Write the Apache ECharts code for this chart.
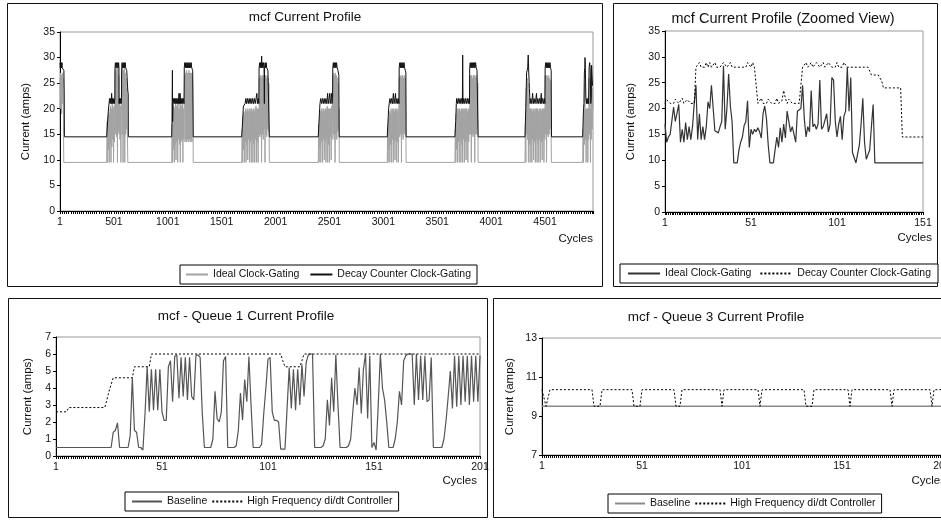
<!DOCTYPE html>
<html><head><meta charset="utf-8">
<script src="https://cdn.jsdelivr.net/npm/echarts@6.0.0/dist/echarts.min.js"></script>
<style>html,body{margin:0;padding:0;background:#fff}#main{width:941px;height:521px}</style>
</head><body><div id="main"></div>
<script>
// ---------- Panel 1: mcf Current Profile (cycle, amps) ----------
const p1XTickLabels = ['1','501','1001','1501','2001','2501','3001','3501','4001','4501'];
const p1MaxCycle = 4946;
const p1Ideal = [
 [1,26],[4,20],[7,27],[10,22],[13,26.5],[16,19],[19,26],[22,21],[25,27],[28,24],[31,26],[34,15],[36,9.5],
 [434,9.5],[438,17.5],[442,9.5],[446,18.5],[450,12],[454,20],[458,9.5],[462,19],[466,13],[470,20.5],[474,9.5],[478,20],[482,12.5],[486,21],[490,14],[494,20],[498,9.5],[502,20.5],[506,13.5],[510,21],[514,27.5],[518,15],[522,28],[526,14.5],[530,27],[534,9.5],[538,28],[542,15.5],[546,26.5],[550,15],[554,21],[558,14],[562,20.5],[566,9.5],[570,21],[574,27],[578,15],[582,28],[586,9.5],[590,27.5],[594,14.5],[598,28],[602,9.5],[606,27],[610,15],[614,26],[618,16],[622,24],[626,15],[630,9.5],
 [1037,9.5],[1041,17],[1045,9.5],[1049,19.5],[1053,12],[1057,20.5],[1061,9.5],[1065,20],[1069,13],[1073,21],[1077,10],[1081,20.5],[1085,13.5],[1089,21],[1093,9.5],[1097,20],[1101,14],[1105,21],[1109,13],[1113,20],[1117,9.5],[1121,21],[1125,14],[1129,20.5],[1133,13.5],[1137,21],[1141,9.5],[1145,20],[1149,14],[1153,21],[1157,26.5],[1161,13.5],[1165,27],[1169,14],[1173,27.5],[1177,13.5],[1181,27],[1185,14],[1189,27],[1193,13.5],[1197,27.5],[1201,14],[1205,27],[1209,13.5],[1213,27],[1217,14],[1221,27],[1225,13.5],[1229,26.5],[1233,25],[1237,9.5],
 [1687,9.5],[1691,16],[1695,9.5],[1699,18.5],[1703,12],[1707,19.5],[1711,9.5],[1715,19],[1719,13.5],[1723,20],[1727,9.5],[1731,19.5],[1735,13],[1739,20],[1743,10],[1747,19.5],[1751,14],[1755,20],[1759,9.5],[1763,19.5],[1767,13.5],[1771,20],[1775,9.5],[1779,20],[1783,14],[1787,19.5],[1791,9.5],[1795,20],[1799,13],[1803,19.5],[1807,9.5],[1811,20],[1815,14],[1819,20.5],[1823,9.5],[1827,20],[1831,13.5],[1835,20],[1839,9.5],[1843,20],[1847,15],[1851,26],[1855,14.5],[1859,26.5],[1863,15],[1867,26],[1871,9.5],[1875,26.5],[1879,15],[1883,26.5],[1887,14],[1891,26],[1895,16],[1899,26.5],[1903,9.5],[1907,26.5],[1911,15],[1915,26],[1919,14.5],[1923,26.5],[1927,16],[1931,26],[1935,15.5],[1939,25],[1943,9.5],
 [2397,9.5],[2401,17],[2405,9.5],[2409,18.5],[2413,12.5],[2417,19.5],[2421,9.5],[2425,20],[2429,13.5],[2433,19.5],[2437,9.5],[2441,20],[2445,14],[2449,20],[2453,10],[2457,19.5],[2461,13.5],[2465,20],[2469,9.5],[2473,20],[2477,14],[2481,20.5],[2485,9.5],[2489,20],[2493,13],[2497,20],[2501,9.5],[2505,20],[2509,14.5],[2513,20],[2517,10],[2521,20.5],[2525,14],[2529,20],[2533,26.5],[2537,15],[2541,27],[2545,14],[2549,26.5],[2553,9.5],[2557,27],[2561,15],[2565,26.5],[2569,14],[2573,26],[2577,15.5],[2581,25],[2585,16],[2589,20],[2592,9.5],
 [3037,9.5],[3041,16.5],[3045,9.5],[3049,18],[3053,12],[3057,19.5],[3061,9.5],[3065,19],[3069,13],[3073,20],[3077,9.5],[3081,19.5],[3085,14],[3089,20],[3093,9.5],[3097,20],[3101,13.5],[3105,19.5],[3109,10],[3113,20],[3117,14],[3121,20],[3125,9.5],[3129,19.5],[3133,13.5],[3137,20],[3141,9.5],[3145,20],[3149,26],[3153,14.5],[3157,26.5],[3161,15],[3165,26],[3169,9.5],[3173,26.5],[3177,15],[3181,26.5],[3185,14],[3189,26],[3193,15.5],[3197,26.5],[3201,15],[3205,26],[3209,20],[3212,9.5],
 [3665,9.5],[3669,16],[3673,9.5],[3677,19],[3681,12],[3685,20],[3689,9.5],[3693,19.5],[3697,13.5],[3701,20],[3705,9.5],[3709,20],[3713,14],[3717,19.5],[3721,9.5],[3725,20],[3729,13],[3733,20],[3737,9.5],[3741,20],[3745,14],[3749,19.5],[3753,9.5],[3757,20],[3761,13.5],[3765,20],[3769,10],[3773,20],[3777,14],[3781,19.5],[3785,9.5],[3789,20],[3793,13.5],[3797,20],[3801,15],[3805,26.5],[3809,15],[3813,26.5],[3817,9.5],[3821,26.5],[3825,15],[3829,26],[3833,14.5],[3837,26.5],[3841,15],[3845,26.5],[3849,9.5],[3853,26],[3857,15],[3861,26.5],[3865,15],[3869,26],[3873,16],[3877,25],[3880,9.5],
 [4315,9.5],[4319,17],[4323,9.5],[4327,24],[4331,15],[4335,26],[4339,14],[4343,25],[4347,9.5],[4351,22],[4355,13],[4359,20],[4363,9.5],[4367,20],[4371,13.5],[4375,20],[4379,9.5],[4383,19.5],[4387,14],[4391,20],[4395,10],[4399,20],[4403,13.5],[4407,19.5],[4411,9.5],[4415,20],[4419,14],[4423,20],[4427,9.5],[4431,20],[4435,13],[4439,19.5],[4443,9.5],[4447,20],[4451,14],[4455,20],[4459,9.5],[4463,20],[4467,13.5],[4471,19.5],[4475,10],[4479,20],[4483,14],[4487,20],[4491,9.5],[4495,20],[4499,14],[4503,26.5],[4507,15],[4511,26.5],[4515,9.5],[4519,26.5],[4523,15],[4527,26],[4531,14.5],[4535,26.5],[4539,15],[4543,26],[4547,16],[4551,25.5],[4555,20],[4560,9.5],
 [4850,9.5],[4854,16],[4858,9.5],[4862,19],[4866,13],[4870,25],[4874,14],[4878,20],[4882,9.5],[4886,20],[4890,13.5],[4894,20],[4898,9.5],[4902,20],[4906,14],[4910,26],[4914,15],[4918,25.5],[4922,9.5],[4926,20],[4930,14],[4934,26],[4938,16],[4942,24],[4946,20]
];
const p1Decay = [
 [1,29],[4,28],[7,29],[10,28],[13,29],[16,28],[19,29],[22,28],[30,28],[37,27.5],[40,23.5],[42,14.5],
 [434,14.5],[449,19.5],[456,21],[461,22],[466,21],[471,22],[476,21],[480,23],[485,21],[490,22],[495,21],[500,22],[505,21],[510,22],[511,28],[515,29],[520,28],[525,29],[530,28],[535,29],[540,28],[545,29],[548,28],[549,21],[553,22],[558,21],[563,22],[568,21],[572,22],[573,28],[577,29],[582,28],[587,29],[592,28],[597,29],[602,28],[607,29],[610,28],[620,27.5],[630,23.5],[634,23],[635,14.5],
 [1037,14.5],[1040,17],[1044,27.5],[1046,17.5],[1050,21],[1055,22],[1060,21],[1065,22],[1070,21],[1075,22],[1080,21],[1085,22],[1090,21],[1095,22],[1100,21],[1105,23],[1110,21],[1115,23],[1120,21],[1125,22],[1130,21],[1135,22],[1140,21],[1145,22],[1152,21],[1154,28],[1158,29],[1163,28],[1168,29],[1173,28],[1178,29],[1183,28],[1188,29],[1193,28],[1198,29],[1203,28],[1208,29],[1213,28],[1218,29],[1223,28],[1232,27.5],[1236,27.5],[1237,14.5],
 [1687,14.5],[1700,19.5],[1703,20.5],[1715,20.5],[1718,21],[1725,22],[1732,21],[1740,22],[1748,21],[1756,22],[1764,21],[1772,22],[1780,21],[1788,22],[1796,21],[1804,22],[1812,21],[1820,22],[1828,23],[1832,21],[1840,22],[1846,21],[1848,28],[1853,29],[1858,28],[1863,29],[1868,28],[1872,30.3],[1874,28],[1879,29],[1884,28],[1889,29],[1894,28],[1897,21],[1899,28],[1904,29],[1909,28],[1914,29],[1918,28],[1930,27.5],[1940,27.5],[1943,14.5],
 [2397,14.5],[2410,20],[2413,21],[2420,22],[2428,21],[2436,22],[2444,21],[2452,22],[2460,21],[2468,22],[2476,21],[2484,23],[2490,21],[2498,22],[2504,23],[2508,21],[2516,22],[2520,23],[2524,21],[2530,22],[2532,28],[2537,29],[2542,28],[2547,29],[2552,28],[2557,29],[2562,28],[2567,29],[2572,28],[2580,27.5],[2588,26.5],[2591,14.5],
 [3037,14.5],[3050,20],[3055,21],[3062,22],[3070,21],[3078,22],[3086,21],[3094,23],[3100,21],[3108,22],[3114,23],[3118,21],[3126,22],[3134,21],[3140,22],[3146,21],[3148,28],[3153,29],[3158,28],[3163,29],[3168,28],[3173,29],[3178,28],[3183,29],[3188,28],[3193,29],[3198,28],[3205,27.5],[3210,27],[3212,14.5],
 [3665,14.5],[3672,17.5],[3678,21],[3681,22],[3688,21],[3696,22],[3704,21],[3712,22],[3720,21],[3728,22],[3734,21],[3737,30.5],[3740,21],[3748,22],[3756,21],[3764,22],[3772,21],[3780,22],[3788,21],[3796,22],[3800,21],[3802,28],[3807,29],[3812,28],[3817,29],[3822,28],[3827,29],[3832,28],[3837,29],[3842,28],[3847,29],[3852,28],[3857,29],[3862,28],[3870,27.5],[3877,27.5],[3880,14.5],
 [4315,14.5],[4322,20],[4330,27],[4340,28],[4345,30.5],[4350,27],[4356,24],[4362,21],[4370,22],[4378,21],[4386,23],[4392,21],[4400,22],[4408,21],[4416,22],[4422,23],[4426,21],[4434,22],[4442,21],[4450,22],[4458,21],[4466,23],[4470,21],[4478,22],[4486,21],[4494,22],[4500,21],[4502,28],[4507,29],[4512,28],[4517,29],[4522,28],[4527,29],[4532,28],[4537,29],[4542,28],[4547,29],[4552,28],[4558,27.5],[4561,14.5],
 [4850,14.5],[4858,20],[4862,21],[4866,27],[4870,28],[4872,30],[4875,28],[4880,22],[4885,21],[4890,22],[4895,21],[4900,22],[4905,21],[4910,28],[4915,29],[4920,28],[4925,21],[4930,22],[4933,28.5],[4938,26],[4942,24.5],[4946,24.5]
];

// ---------- Panel 2: zoomed view, cycles 1..151 ----------
const p2Count = 151;
const p2Ideal = [
 17,13.5,14.5,15,15,20.3,17.5,17.3,20.8,13.5,
 16,13.5,17.3,14,16.5,14,16.5,21,24.5,14,
 19,14,16.5,14,16.5,21.3,20,24.5,24.8,15.7,
 15.5,15.3,16.5,17.5,28.3,16,20,26.7,20.5,17.5,
 9.5,9.5,9.5,12,13.5,14.5,16.7,17.5,21.5,12.5,
 16,15,16,15.5,16.3,15.5,14.3,19,20.5,18,
 13,9.5,9.5,9.5,12,14.5,12.5,16.3,13.5,17,
 14.3,19.5,19.5,15.5,16.5,15,13.5,19.5,19.5,20,
 24.5,18,14.5,16.5,15.5,23.5,16.5,17,16,17,
 25.5,16,16.5,16.5,19,15.5,17,26,25.5,17.5,
 14.5,17,18.5,14,18.5,19.5,28,19.5,26,11.5,
 10.5,9.5,9.7,13,17,22,13.5,10.2,10.2,12,
 16.5,20.8,9.5,9.5,9.5,9.5,9.5,9.5,9.5,9.5,
 9.5,9.5,9.5,9.5,9.5,9.5,9.5,9.5,9.5,9.5,
 9.5,9.5,9.5,9.5,9.5,9.5,9.5,9.5,9.5,9.5,
 9.5
];
const p2Decay = [
 21,21.7,21.7,21,21,21,21.8,21.8,21,21,
 22,21,21,21.7,21.7,21,21,21,
 28,28,28.9,28,28,28,28.9,28,28.9,28,
 28,28.9,28,28,28,28,28.9,28.9,28,28,
 28.9,28,28,28,28,28,28,28,28,28,
 28.9,28.9,28,28.9,28,28,
 21,21,22,21,21,21,21.8,21.8,21,21,
 21,22,21,21,21.5,23.5,22,21,21.8,21.8,
 21,21,21,21,21,21,
 28,28,28.9,28,28,28.9,28,28,28.9,28.9,
 28,28,28.9,28,28,28.9,28.9,28,28,28,
 28.9,28,28,28,28.9,28.9,28,28,28,28,
 28,28,28,28,28,28,28,28,28,28,
 26.5,26.5,26.5,26.5,26.5,26.5,
 25.3,24,24,24,24,24,24,24,24,24,24,24,
 14.5,14.5,14.5,14.5,14.5,14.5,14.5,14.5,14.5,14.5,14.5,14.5,14.5
];

// ---------- Panel 3: Queue 1, cycles 1..201 ----------
const q1Count = 201;
const q1Baseline = [
 0.5,0.5,0.5,0.5,0.5,0.5,0.5,0.5,0.5,0.5,
 0.5,0.5,0.5,0.5,0.5,0.5,0.5,0.5,0.5,0.5,
 0.5,0.5,0.5,0.5,0.5,0.5,0.5,
 1.4,1.5,1.95,0.5,0.5,0.5,0.5,0.5,1.2,4.6,1.5,1.4,0.5,
 0.5,0.35,2.5,5.25,2.6,5.1,2.7,5.1,2.7,5.1,
 2.6,2.1,2.1,5.25,5.6,3.2,5.85,5.95,3.4,5.8,
 3.5,5.8,3.3,5.8,3.5,3.3,5.9,5.95,5.8,2.5,
 0.5,0.5,0.5,0.5,1.0,3.8,2.2,2.0,2.6,5.6,
 5.85,0.5,0.5,0.5,0.5,0.6,1.5,3.7,2.1,4.5,
 3.2,5.85,3.0,0.5,0.5,0.5,0.5,0.7,2.5,4.0,
 5.7,5.8,2.6,2.1,2.1,2.0,0.4,0.4,0.4,2.8,
 5.2,2.8,5.1,2.7,5.1,3.0,5.4,3.5,5.5,5.95,
 6.0,6.0,0.5,0.5,0.5,0.5,0.6,1.0,3.3,1.8,
 4.6,2.6,5.95,3.0,0.5,0.5,0.5,0.5,0.6,1.0,
 2.6,4.0,3.0,5.2,2.5,5.1,6.0,2.2,5.9,0.5,
 0.8,0.35,3.0,6.0,4.0,3.3,2.0,0.5,0.5,0.5,
 1.0,2.0,3.8,3.0,5.6,5.9,6.0,6.0,6.0,3.0,
 6.0,3.3,5.9,3.3,5.9,3.2,3.3,5.8,0.5,0.5,
 0.5,0.5,0.5,1.0,2.1,3.5,5.0,2.8,5.9,2.9,
 5.9,3.0,5.9,3.2,5.9,3.0,5.9,3.2,5.9,3.2,
 5.9
];
// [cycle, amps] at the corners of the stepped controller line
const q1HighFreq = [
 [1,2.6],[6,2.6],[7,2.85],[24,2.85],[25,3.3],[26,3.8],[27,4.2],[28,4.6],[37,4.6],[38,5.25],[45,5.25],[46,6],
 [107,6],[108,5.6],[109,5.25],[116,5.25],[117,5.6],[118,6],[201,6]
];

// ---------- Panel 4: Queue 3, cycles 1..201 ----------
const q3Count = 201;
const q3YTicks = [7, 9, 11, 13];
const q3Baseline = [[1,9.5],[201,9.5]];
const q3HighFreq = [
 [1,10.35],[2,10.35],[3,9.5],[4,9.5],[5,10.35],[26,10.35],[27,9.5],[30,9.5],[31,10.35],
 [46,10.35],[47,9.5],[50,9.5],[51,10.35],[67,10.35],[68,9.5],[70,9.5],[71,10.35],
 [90,10.35],[91,9.5],[92,10.35],[109,10.35],[110,9.5],[111,10.35],
 [132,10.35],[133,9.5],[136,9.5],[137,10.35],[154,10.35],[155,9.5],[156,10.35],
 [175,10.35],[176,9.5],[177,10.35],[195,10.35],[196,9.5],[197,10.35],[201,10.35]
];

// ---------- build ----------
const FONT = "'Liberation Sans', Arial, sans-serif";
const cats = n => { const a = []; for (let i = 1; i <= n; i++) a.push(String(i)); return a; };
const catPairs = arr => arr.map(([c, v]) => [String(c), v]);
const DOT = [2, 2];

function yAx(gi, min, max, interval, gap, extra) {
  return Object.assign({
    type: 'value', gridIndex: gi, min, max, interval,
    name: 'Current (amps)', nameLocation: 'middle', nameGap: gap,
    nameTextStyle: { fontSize: 11.5, color: '#111', fontFamily: FONT },
    axisLine: { show: true, lineStyle: { color: '#000', width: 1 } },
    axisTick: { show: true, length: 3, lineStyle: { color: '#000' } },
    axisLabel: { fontSize: 10.5, color: '#111', margin: 5, fontFamily: FONT },
    splitLine: { show: false }
  }, extra || {});
}
function xCat(gi, n, nameGap, namePad) {
  return {
    type: 'category', gridIndex: gi, data: cats(n), boundaryGap: false,
    name: 'Cycles', nameLocation: 'end', nameGap: nameGap,
    nameTextStyle: { fontSize: 11.5, color: '#111', align: 'right', verticalAlign: 'top', padding: [namePad, 0, 0, 0], fontFamily: FONT },
    axisLine: { show: true, onZero: false, lineStyle: { color: '#000', width: 1 } },
    axisTick: { show: true, interval: 0, length: 3, lineStyle: { color: '#000' } },
    axisLabel: { interval: 49, fontSize: 10.5, color: '#111', margin: 6, fontFamily: FONT },
    splitLine: { show: false }
  };
}
function legend(names, left, top, iconW, gap, pad) {
  return {
    data: names, left, top, orient: 'horizontal', selectedMode: false,
    itemWidth: iconW, itemHeight: 8, itemGap: gap,
    padding: pad, borderColor: '#000', borderWidth: 1, backgroundColor: '#fff',
    itemStyle: { opacity: 0 },
    formatter: n => n.split('|')[0],
    textStyle: { fontSize: 10.5, color: '#111', fontFamily: FONT }
  };
}
function line(name, xi, data, color, width, type) {
  return {
    name, type: 'line', xAxisIndex: xi, yAxisIndex: xi, data,
    symbol: 'none', showSymbol: false, animation: false, silent: true,
    lineStyle: { color, width, type: type || 'solid' }, itemStyle: { color }
  };
}
const titleStyle = { fontSize: 13.5, fontWeight: 'normal', color: '#111', fontFamily: FONT };
const gridBase = { show: true, borderColor: '#999', borderWidth: 1, containLabel: false, outerBoundsMode: 'none' };

const option = {
  backgroundColor: '#fff',
  animation: false,
  textStyle: { fontFamily: FONT },
  title: [
    { text: 'mcf Current Profile', left: 305, top: 10, textAlign: 'center', padding: 0, textStyle: titleStyle },
    { text: 'mcf Current Profile (Zoomed View)', left: 783, top: 11, textAlign: 'center', padding: 0, textStyle: Object.assign({}, titleStyle, { fontSize: 14.5 }) },
    { text: 'mcf - Queue 1 Current Profile', left: 246, top: 309, textAlign: 'center', padding: 0, textStyle: titleStyle },
    { text: 'mcf - Queue 3 Current Profile', left: 716, top: 310, textAlign: 'center', padding: 0, textStyle: titleStyle }
  ],
  grid: [
    Object.assign({ left: 60, top: 32, width: 533, height: 179 }, gridBase),
    Object.assign({ left: 665, top: 31, width: 258, height: 181 }, gridBase),
    Object.assign({ left: 56, top: 337, width: 424, height: 119 }, gridBase),
    Object.assign({ left: 542, top: 338, width: 400, height: 117 }, gridBase)
  ],
  xAxis: [
    {
      type: 'value', gridIndex: 0, min: 0, max: p1MaxCycle - 1, interval: 500,
      name: 'Cycles', nameLocation: 'end', nameGap: 0,
      nameTextStyle: { fontSize: 11.5, color: '#111', align: 'right', verticalAlign: 'top', padding: [22, 0, 0, 0], fontFamily: FONT },
      axisLine: { show: true, onZero: false, lineStyle: { color: '#000', width: 1 } },
      axisTick: { show: true, length: 3, lineStyle: { color: '#000' } },
      minorTick: { show: true, splitNumber: 25, length: 3, lineStyle: { color: '#000' } },
      axisLabel: { fontSize: 10.5, color: '#111', margin: 6, showMaxLabel: false, fontFamily: FONT,
        formatter: v => p1XTickLabels[Math.round(v / 500)] || '' },
      splitLine: { show: false }, minorSplitLine: { show: false }
    },
    xCat(1, p2Count, 9, 20),
    xCat(2, q1Count, -3, 19),
    xCat(3, q3Count, 4, 20)
  ],
  yAxis: [
    yAx(0, 0, 35, 5, 28),
    yAx(1, 0, 35, 5, 28),
    yAx(2, 0, 7, 1, 22),
    yAx(3, 7, 13, null, 26, {
      interval: undefined,
      axisLabel: { fontSize: 10.5, color: '#111', margin: 5, fontFamily: FONT, customValues: q3YTicks },
      axisTick: { show: true, length: 3, lineStyle: { color: '#000' }, customValues: q3YTicks }
    })
  ],
  legend: [
    legend(['Ideal Clock-Gating|1', 'Decay Counter Clock-Gating|1'], 180, 265, 22, 10, [4, 6, 4, 5]),
    legend(['Ideal Clock-Gating|2', 'Decay Counter Clock-Gating|2'], 620, 264, 32, 8, [4, 7, 4, 7]),
    legend(['Baseline|3', 'High Frequency di/dt Controller|3'], 125, 492, 30, 4, [4, 6, 4, 6]),
    legend(['Baseline|4', 'High Frequency di/dt Controller|4'], 608, 494, 30, 4, [4, 6, 4, 6])
  ],
  graphic: [
    { type: 'rect', silent: true, shape: { x: 7.5, y: 3.5, width: 595, height: 283 }, style: { fill: 'none', stroke: '#111', lineWidth: 1 } },
    { type: 'rect', silent: true, shape: { x: 613.5, y: 3.5, width: 324, height: 283 }, style: { fill: 'none', stroke: '#111', lineWidth: 1 } },
    { type: 'rect', silent: true, shape: { x: 8.5, y: 298.5, width: 479, height: 219 }, style: { fill: 'none', stroke: '#111', lineWidth: 1 } },
    { type: 'rect', silent: true, shape: { x: 493.5, y: 298.5, width: 470, height: 219 }, style: { fill: 'none', stroke: '#111', lineWidth: 1 } }
  ],
  series: [
    line('Ideal Clock-Gating|1', 0, p1Ideal.map(([c, v]) => [c - 1, v]), '#a3a3a3', 1),
    line('Decay Counter Clock-Gating|1', 0, p1Decay.map(([c, v]) => [c - 1, v]), '#111', 1),
    line('Ideal Clock-Gating|2', 1, p2Ideal, '#333', 1.2),
    line('Decay Counter Clock-Gating|2', 1, p2Decay, '#000', 1, DOT),
    line('Baseline|3', 2, q1Baseline, '#555', 1.2),
    line('High Frequency di/dt Controller|3', 2, catPairs(q1HighFreq), '#000', 1, DOT),
    line('Baseline|4', 3, catPairs(q3Baseline), '#8a8a8a', 1.5),
    line('High Frequency di/dt Controller|4', 3, catPairs(q3HighFreq), '#000', 1, DOT)
  ]
};
const chart = echarts.init(document.getElementById('main'), null, { renderer: 'canvas', width: 941, height: 521 });
chart.setOption(option);
</script></body></html>
